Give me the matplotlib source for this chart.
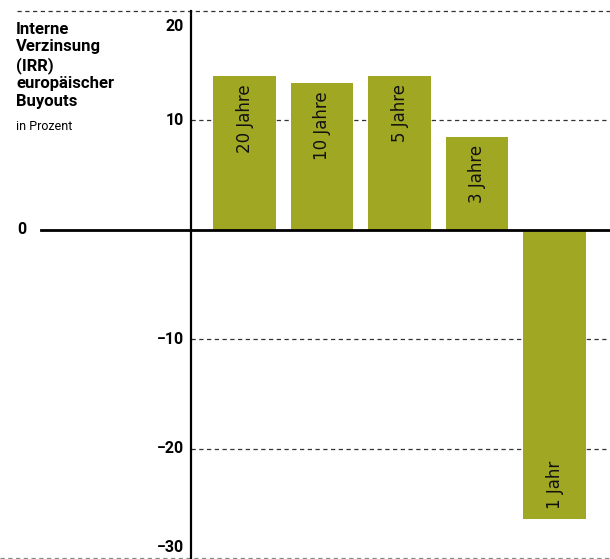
import matplotlib
matplotlib.use("Agg")
import matplotlib.pyplot as plt
import matplotlib.transforms as mtransforms

# data
periods = ["20 Jahre", "10 Jahre", "5 Jahre", "3 Jahre", "1 Jahr"]
irr = [14.1, 13.4, 14.1, 8.5, -26.4]
yticks = [20, 10, 0, -10, -20, -30]

bar_color = "#a0a823"

fig = plt.figure(figsize=(6.1, 5.59), dpi=100)
W, H = 610, 559
# axes area in pixels: x 190.5..610, y 11..558
ax = fig.add_axes([190.5 / W, 1 - 558 / H, (610 - 190.5) / W, (558 - 11) / H])
ax_w = 610 - 190.5

x = list(range(len(periods)))
ax.bar(x, irr, width=0.81, color=bar_color, zorder=3)
ax.set_xlim(-0.697, 4.716)
ax.set_ylim(-30, 20)

# dashed grid lines
for t in yticks:
    if t == 0:
        continue
    if t == 20:
        xmin, col = -(190.5 - 17) / ax_w, "#333333"
    elif t == -30:
        xmin, col = -190.5 / ax_w, "#888888"
    else:
        xmin, col = 0, "#333333"
    ax.axhline(t, xmin=xmin, xmax=1, color=col, lw=0.9,
               linestyle=(0, (3.4, 2.8)), clip_on=False, zorder=1)

# zero line
ax.axhline(0, xmin=-(190.5 - 41) / ax_w, xmax=1, color="black", lw=2,
           clip_on=False, zorder=4)

for s in ["top", "right", "bottom"]:
    ax.spines[s].set_visible(False)
ax.spines["left"].set_linewidth(1.6)
ax.spines["left"].set_zorder(5)
ax.set_xticks([])
ax.set_yticks([])

# y labels drawn as text (top/bottom ones nudged inward like the original)
ytrans = mtransforms.blended_transform_factory(fig.transFigure, ax.transData)
for t in yticks:
    lab = ("\u2212" + str(-t)) if t < 0 else str(t)
    dy = {20: -11, -30: 7.5}.get(t, 0)
    if t == 0:
        xf, ha = 17 / W, "left"
    else:
        xf, ha = 183.5 / W, "right"
    ax.annotate(lab, (xf, t), xycoords=ytrans, xytext=(0, dy),
                textcoords="offset points", ha=ha, va="center",
                fontfamily="Roboto", fontweight="bold", fontsize=11.5,
                annotation_clip=False)

# bar labels
for xi, v, name in zip(x, irr, periods):
    if v >= 0:
        ax.annotate(name, (xi, v), xytext=(0, -6), textcoords="offset points",
                    rotation=90, ha="center", va="top", fontsize=12,
                    fontfamily="DejaVu Sans", color="#111111", zorder=6)
    else:
        ax.annotate(name, (xi, v), xytext=(0, 7), textcoords="offset points",
                    rotation=90, ha="center", va="bottom", fontsize=12,
                    fontfamily="DejaVu Sans", color="#111111", zorder=6)

# title
fig.text(16 / W, 1 - 22 / H, "Interne\nVerzinsung\n(IRR)\neuropäischer\nBuyouts",
         fontfamily="Roboto", fontweight="bold", fontsize=12, ha="left", va="top",
         linespacing=1.2)
fig.text(16 / W, 1 - 126 / H, "in Prozent", fontfamily="Roboto", fontsize=9,
         ha="left", va="center")

fig.savefig("out.png", dpi=100)
